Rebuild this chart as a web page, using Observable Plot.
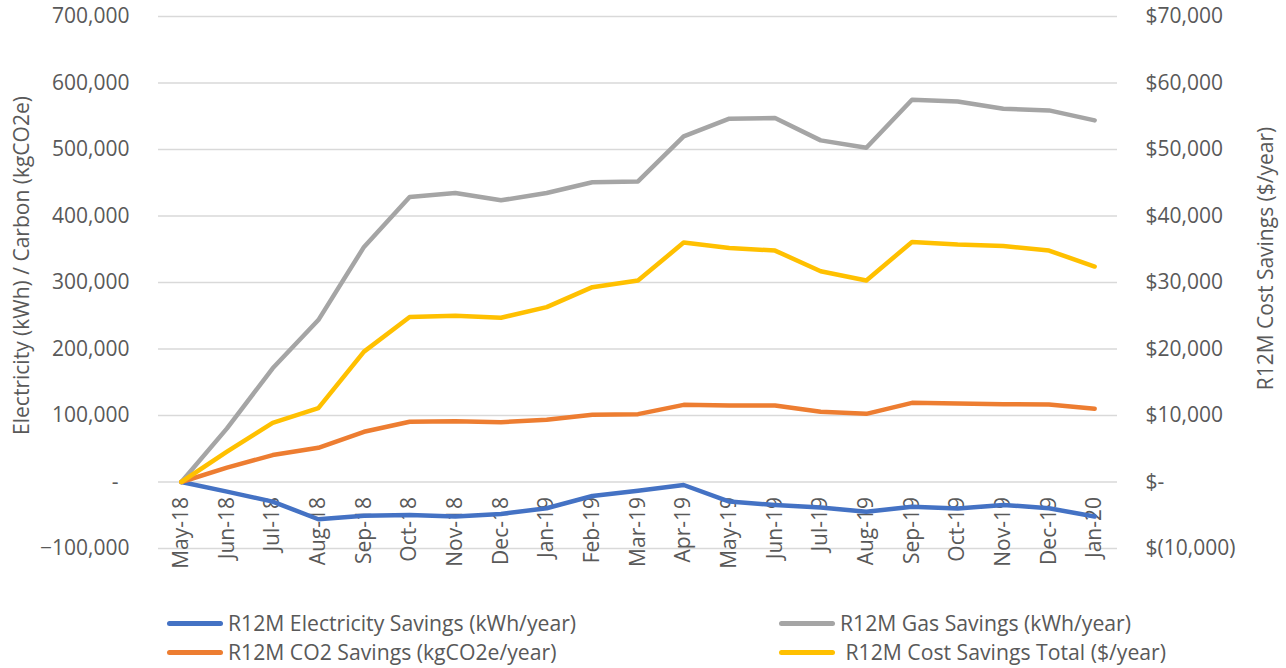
<!DOCTYPE html>
<html>
<head>
<meta charset="utf-8">
<script src="https://cdn.jsdelivr.net/npm/d3@7"></script>
<script src="https://cdn.jsdelivr.net/npm/@observablehq/plot@0.6"></script>
<style>
  html, body { margin: 0; padding: 0; background: #fff; }
  #wrap { width: 1286px; height: 668px; position: relative; overflow: hidden; font-family: 'Open Sans', sans-serif; color: #595959; }
  #legend { position: absolute; left: 0; top: 600px; width: 1286px; height: 68px; }
  .item { position: absolute; display: flex; align-items: center; font-size: 21.2px; white-space: pre; line-height: 1; height: 22px; }
  .sw { width: 56px; height: 5px; border-radius: 3px; margin-right: 5px; }
</style>
</head>
<body>
<div id="wrap"><div id="chart"></div><div id="legend"></div></div>
<script>
// ---- data ----
const months = ["May-18","Jun-18","Jul-18","Aug-18","Sep-18","Oct-18","Nov-18","Dec-18","Jan-19","Feb-19","Mar-19",
  "Apr-19","May-19","Jun-19","Jul-19","Aug-19","Sep-19","Oct-19","Nov-19","Dec-19","Jan-20"];

const electricity = [0, -14500, -29500, -56000, -50600, -49600, -52000, -48000, -39500, -21000, -13000,
  -4500, -29500, -34500, -38500, -44600, -37100, -40000, -34500, -39500, -52000];
const gas = [0, 80600, 171000, 243500, 353500, 428600, 434600, 423600, 434600, 450700, 452000,
  519800, 546300, 547300, 513700, 502700, 574900, 572300, 561300, 558800, 543800];
const co2 = [0, 21500, 40500, 51500, 75500, 90600, 91500, 90000, 93500, 101000, 102000,
  116000, 115000, 115000, 105500, 102500, 119000, 118000, 117000, 116500, 110000];
const cost = [0, 4550, 8900, 11100, 19600, 24800, 25000, 24700, 26300, 29300, 30300,
  36000, 35200, 34800, 31700, 30300, 36100, 35700, 35500, 34800, 32400];

const seriesNames = ["R12M Electricity Savings (kWh/year)", "R12M Gas Savings (kWh/year)",
  "R12M CO2 Savings (kgCO2e/year)", "R12M Cost Savings Total ($/year)"];
const seriesColors = ["#4472C4", "#A5A5A5", "#ED7D31", "#FFC000"];

const leftTicks = [-100000, 0, 100000, 200000, 300000, 400000, 500000, 600000, 700000];
const leftTitle = "Electricity (kWh) / Carbon (kgCO2e)";
const rightTitle = "R12M Cost Savings ($/year)";
const secondaryRatio = 10; // left axis units per $ on the right axis

// ---- build table ----
const seriesValues = [electricity, gas, co2, cost];
const rows = [];
seriesValues.forEach((arr, s) => {
  arr.forEach((v, i) => rows.push({
    series: seriesNames[s],
    month: months[i],
    y: s === 3 ? v * secondaryRatio : v
  }));
});

const num = d3.format(",");
const fmtLeft = d => d === 0 ? "-\u00a0\u00a0" : num(d);
const fmtRight = d => {
  const v = d / secondaryRatio;
  if (v === 0) return "$-";
  if (v < 0) return "$(" + num(-v) + ")";
  return "$" + num(v);
};

const FS = 21;
const chart = Plot.plot({
  width: 1286,
  height: 600,
  marginLeft: 158,
  marginRight: 169,
  marginTop: 16,
  marginBottom: 52,
  style: { fontFamily: "'Open Sans', sans-serif", fontSize: FS + "px", color: "#595959", background: "white", overflow: "visible" },
  x: { type: "point", domain: months, padding: 0.5, round: false, axis: null },
  y: { domain: [-100000, 700000], axis: null },
  color: { domain: seriesNames, range: seriesColors },
  marks: [
    Plot.ruleY(leftTicks, { stroke: "#d9d9d9", strokeWidth: 1.3 }),
    Plot.axisY({ ticks: leftTicks, tickFormat: fmtLeft, tickSize: 0, tickPadding: 29, label: null, fontSize: FS }),
    Plot.axisY({ anchor: "right", ticks: leftTicks, tickFormat: fmtRight, tickSize: 0, tickPadding: 28, label: null, fontSize: FS }),
    Plot.text(months, { x: d => d, y: 0, text: d => d, rotate: -90, textAnchor: "end", dy: 15, fontSize: FS, fill: "#595959" }),
    Plot.line(rows, { x: "month", y: "y", z: "series", stroke: "series", strokeWidth: 4.5, strokeLinecap: "round", strokeLinejoin: "round" }),
    Plot.text([leftTitle], { frameAnchor: "left", textAnchor: "middle", dx: -136, dy: -17, rotate: -90, fontSize: FS, fill: "#595959" }),
    Plot.text([rightTitle], { frameAnchor: "right", textAnchor: "middle", dx: 149, dy: -24, rotate: -90, fontSize: FS, fill: "#595959" })
  ]
});
document.getElementById("chart").appendChild(chart);

// ---- legend ----
const legendPos = [
  { left: 167, top: 12, pad: "" },
  { left: 779, top: 12, pad: "" },
  { left: 167, top: 41, pad: "" },
  { left: 779, top: 41, pad: " " }
];
const legend = document.getElementById("legend");
seriesNames.forEach((name, i) => {
  const it = document.createElement("div");
  it.className = "item";
  it.style.left = legendPos[i].left + "px";
  it.style.top = legendPos[i].top + "px";
  const sw = document.createElement("span");
  sw.className = "sw";
  sw.style.background = seriesColors[i];
  const tx = document.createElement("span");
  tx.textContent = legendPos[i].pad + name;
  it.appendChild(sw);
  it.appendChild(tx);
  legend.appendChild(it);
});
</script>
</body>
</html>
